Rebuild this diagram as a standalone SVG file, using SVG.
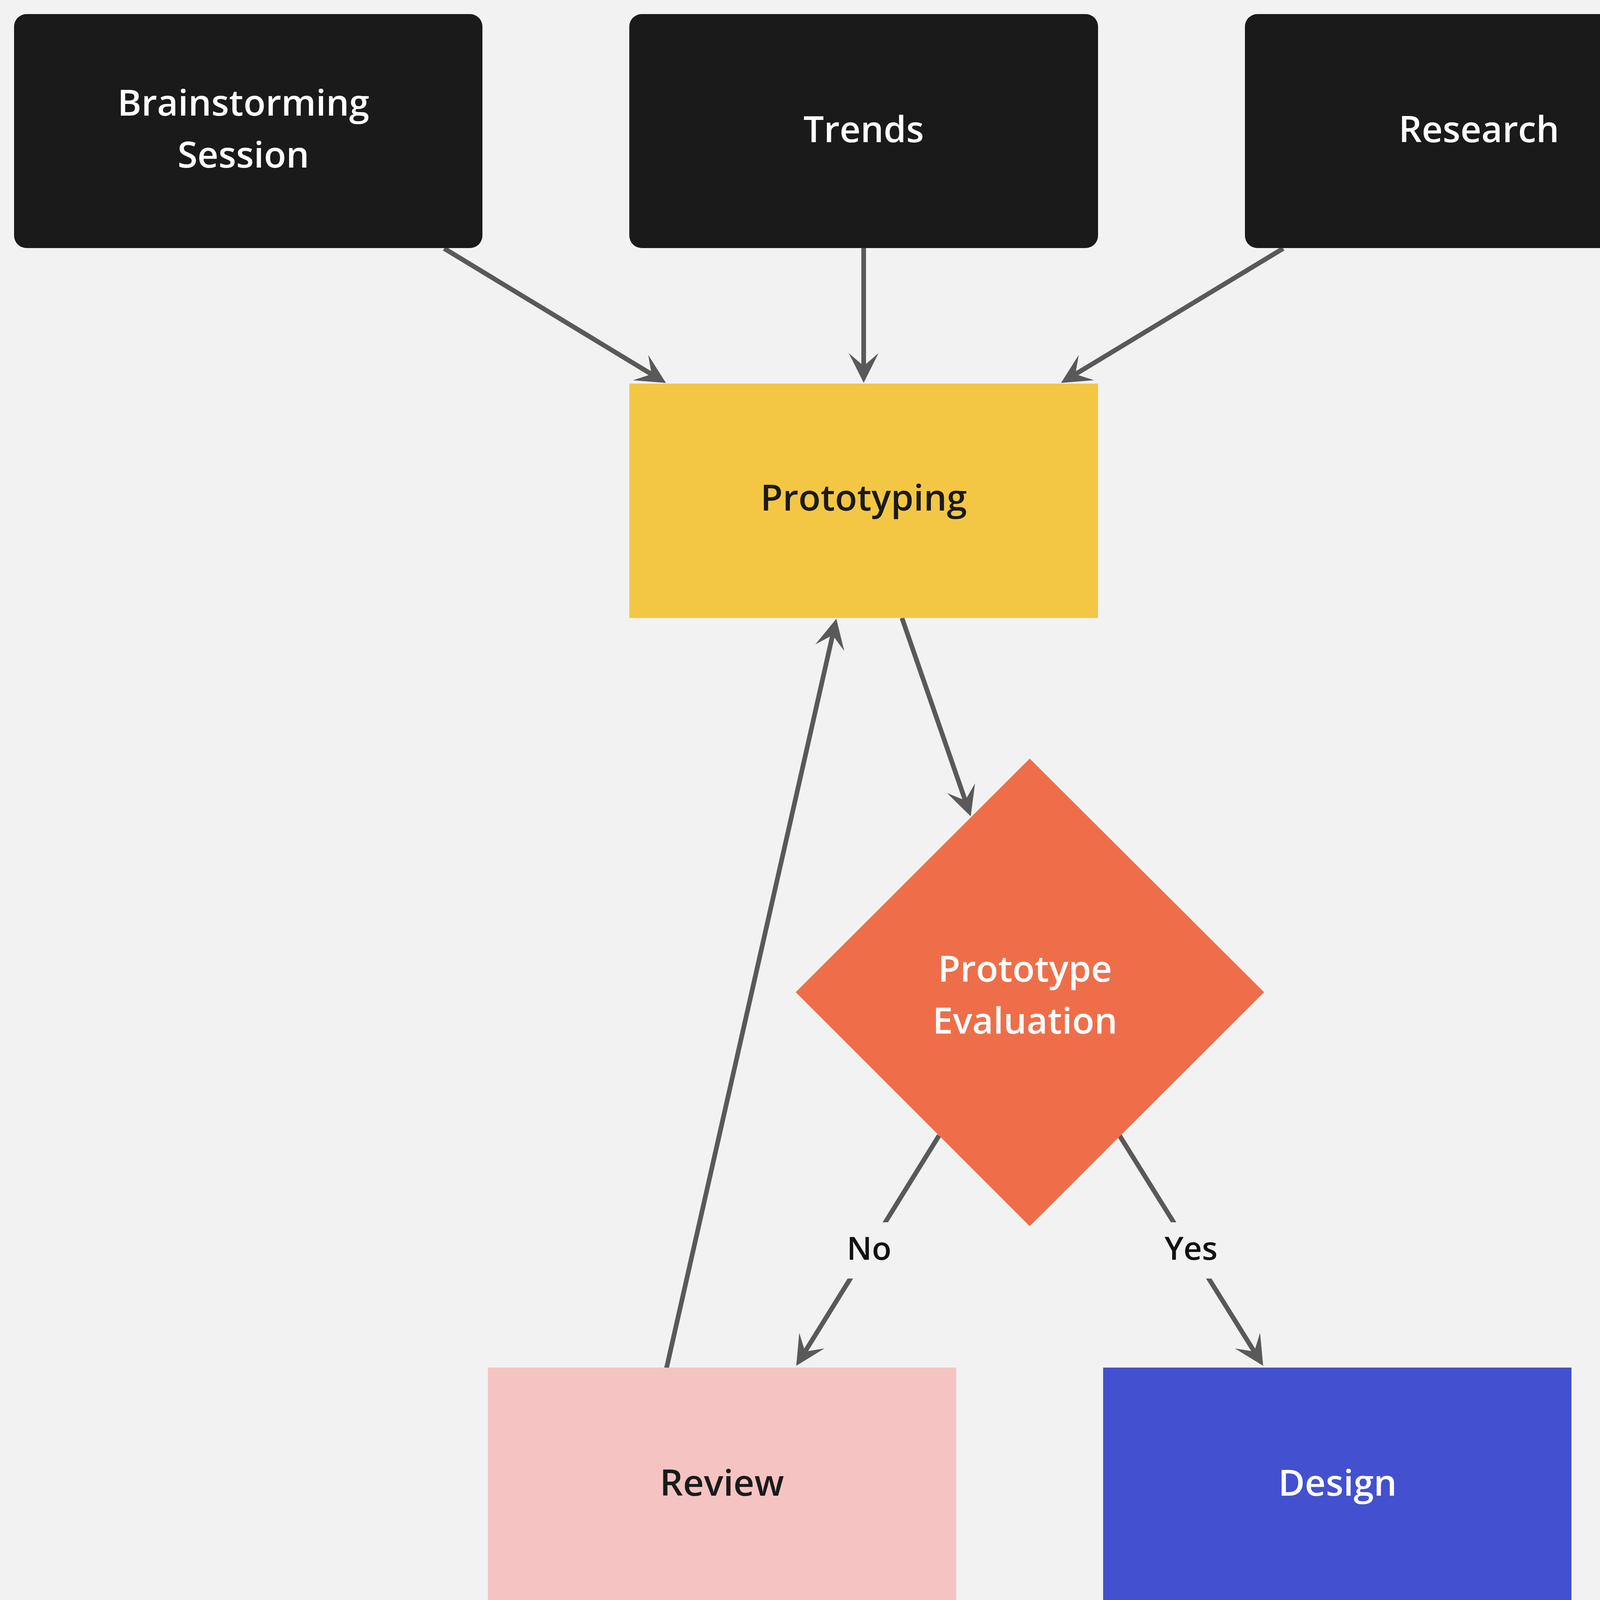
<svg xmlns="http://www.w3.org/2000/svg" width="4422" height="5082" viewBox="0 0 4422 5082">
<style>
.lbl{font-family:"Open Sans","Noto Sans","Liberation Sans",sans-serif;font-weight:600;font-size:93px;text-anchor:middle}
.light{fill:#ffffff}
.dark{fill:#1a1a1a}
.edge{stroke:#595959;stroke-width:12;fill:none}
.elbl{font-family:"Open Sans","Noto Sans","Liberation Sans",sans-serif;font-weight:600;font-size:82px;text-anchor:middle;fill:#111111}
</style>
<defs>
<marker id="arr" viewBox="-40 -40 90 80" refX="0" refY="0" markerWidth="90" markerHeight="80" markerUnits="userSpaceOnUse" orient="auto">
<path d="M43,0 L-33,-38 L0,0 L-33,38 Z" fill="#595959"/>
</marker>
</defs>
<rect x="0" y="0" width="4422" height="5082" fill="#f2f2f2"/>
<g id="connectors">
<line class="edge" x1="1137" y1="636" x2="1668" y2="958" marker-end="url(#arr)"/>
<line class="edge" x1="2211" y1="635" x2="2211" y2="937" marker-end="url(#arr)"/>
<line class="edge" x1="3285" y1="636" x2="2753" y2="958" marker-end="url(#arr)"/>
<line class="edge" x1="2309" y1="1582" x2="2471" y2="2049" marker-end="url(#arr)"/>
<line class="edge" x1="1492" y1="4448" x2="2131.5" y2="1626" marker-end="url(#arr)"/>
<line class="edge" x1="2404" y1="2907" x2="2061" y2="3460" marker-end="url(#arr)"/>
<line class="edge" x1="2866" y1="2907" x2="3211" y2="3460" marker-end="url(#arr)"/>
<line class="edge" x1="1714" y1="4101" x2="1577" y2="4407" marker-end="url(#arr)"/>
<line class="edge" x1="3424" y1="4101" x2="3424" y2="4403" marker-end="url(#arr)"/>
<rect x="2140" y="3129" width="170" height="144" fill="#f2f2f2"/>
<text class="elbl" x="2225" y="3225">No</text>
<rect x="2955" y="3129" width="190" height="144" fill="#f2f2f2"/>
<text class="elbl" x="3049" y="3225">Yes</text>
</g>
<g id="brainstorming">
<rect x="36" y="36" width="1199" height="599" rx="32" fill="#1a1a1a"/>
<text class="lbl light" x="623" y="296">Brainstorming</text>
<text class="lbl light" x="623" y="429">Session</text>
</g>
<g id="trends">
<rect x="1611" y="36" width="1200" height="599" rx="32" fill="#1a1a1a"/>
<text class="lbl light" x="2211" y="364">Trends</text>
</g>
<g id="research">
<rect x="3187" y="36" width="1199" height="599" rx="32" fill="#1a1a1a"/>
<text class="lbl light" x="3786" y="364">Research</text>
</g>
<g id="prototyping">
<rect x="1611" y="982" width="1200" height="600" fill="#f3c744"/>
<text class="lbl dark" x="2211" y="1307">Prototyping</text>
</g>
<g id="evaluation">
<polygon points="2636,1942 3236,2540 2636,3139 2037,2540" fill="#ee6e4a"/>
<text class="lbl light" x="2624" y="2513">Prototype</text>
<text class="lbl light" x="2624" y="2646">Evaluation</text>
</g>
<g id="review">
<rect x="1249" y="3501" width="1199" height="600" fill="#f5c3c2"/>
<text class="lbl dark" x="1848" y="3829">Review</text>
</g>
<g id="design">
<rect x="2824" y="3501" width="1199" height="600" fill="#4350d0"/>
<text class="lbl light" x="3424" y="3829">Design</text>
</g>
<g id="quickdesign">
<rect x="823" y="4447" width="1200" height="600" fill="#f5c3c2"/>
<text class="lbl dark" x="1423" y="4773">Quick Design</text>
</g>
<g id="testing">
<rect x="2824" y="4447" width="1199" height="600" rx="32" fill="#1a1a1a"/>
<text class="lbl light" x="3424" y="4773">Testing</text>
</g>
</svg>
